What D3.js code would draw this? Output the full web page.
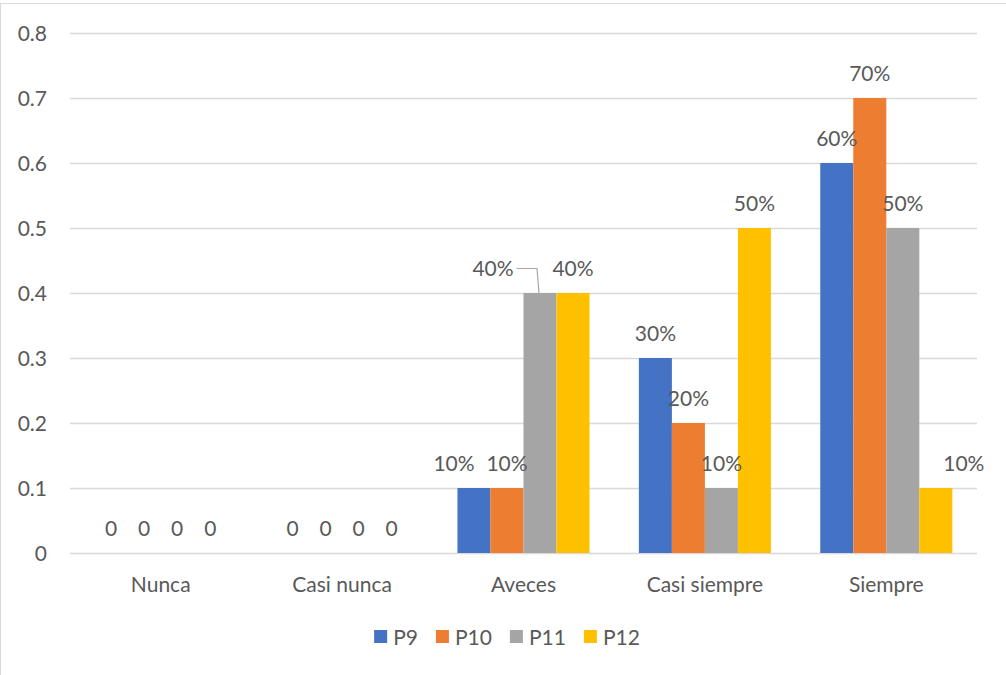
<!DOCTYPE html>
<html><head><meta charset="utf-8">
<script src="https://cdn.jsdelivr.net/npm/d3@7"></script>
<style>
html,body{margin:0;padding:0;background:#fff;}
svg text{font-family:Lato,"Open Sans",sans-serif;fill:#595959;}
</style></head>
<body><svg id="c" width="1006" height="675"></svg>
<script>
const categories = ["Nunca","Casi nunca","Aveces","Casi siempre","Siempre"];
const seriesNames = ["P9","P10","P11","P12"];
const P9  = [0,0,0.1,0.3,0.6];
const P10 = [0,0,0.1,0.2,0.7];
const P11 = [0,0,0.4,0.1,0.5];
const P12 = [0,0,0.4,0.5,0.1];
const yTicks = [0,0.1,0.2,0.3,0.4,0.5,0.6,0.7,0.8];
const colors = ["#4472C4","#ED7D31","#A5A5A5","#FFC000"];
// label nudges (style only): [seriesIndex, categoryIndex, dx, leader]
const labelNudges = [[0,2,-20,false],[2,2,-47,true],[3,4,28,false]];

const FS = "21px";
const values = [P9,P10,P11,P12];
const svg = d3.select("#c");
svg.append("rect").attr("x",0.5).attr("y",3.5).attr("width",1020).attr("height",690)
  .attr("fill","none").attr("stroke","#D9D9D9").attr("stroke-width",1);

const pLeft=70, pRight=977, pTop=33, pBottom=553;
const y = d3.scaleLinear().domain([0,0.8]).range([pBottom,pTop]);
const x0 = d3.scaleBand().domain(categories).range([pLeft,pRight]).paddingInner(0.272).paddingOuter(0.136);
const x1 = d3.scaleBand().domain(seriesNames).range([0,x0.bandwidth()]);

// gridlines
svg.append("g").selectAll("line").data(yTicks).join("line")
  .attr("x1",pLeft).attr("x2",pRight)
  .attr("y1",d=>Math.round(y(d))+0.5).attr("y2",d=>Math.round(y(d))+0.5)
  .attr("stroke","#D9D9D9").attr("stroke-width",1.3);
// y tick labels
svg.append("g").selectAll("text").data(yTicks).join("text")
  .attr("x",47).attr("y",d=>y(d)+7.5).attr("text-anchor","end")
  .style("font-size",FS).text(d=>d===0?"0":d3.format(".1f")(d));

// bars
const data=[];
seriesNames.forEach((s,si)=>categories.forEach((c,ci)=>data.push({s,si,c,ci,v:values[si][ci]})));
svg.append("g").selectAll("rect").data(data.filter(d=>d.v>0)).join("rect")
  .attr("x",d=>x0(d.c)+x1(d.s)).attr("width",x1.bandwidth())
  .attr("y",d=>y(d.v)).attr("height",d=>y(0)-y(d.v))
  .attr("fill",d=>colors[d.si]);

// labels
const fmt = v=> v===0?"0":Math.round(v*100)+"%";
const lg = svg.append("g");
data.forEach(d=>{
  const cx = x0(d.c)+x1(d.s)+x1.bandwidth()/2;
  const n = labelNudges.find(k=>k[0]===d.si&&k[1]===d.ci);
  const dx = n?n[2]:0;
  const ty = y(d.v)-17.5;
  const t = lg.append("text").attr("x",cx+dx).attr("y",ty).attr("text-anchor","middle")
    .style("font-size",FS).text(fmt(d.v));
  if(n&&n[3]){
    const w = t.node().getComputedTextLength();
    const lx = cx+dx+w/2+3, ly = ty-7;
    lg.append("path").attr("d",`M${lx},${ly}H${cx-3}L${cx-1},${y(d.v)}`)
      .attr("fill","none").attr("stroke","#A6A6A6").attr("stroke-width",1.2);
  }
});

// category labels
svg.append("g").selectAll("text").data(categories).join("text")
  .attr("x",d=>x0(d)+x0.bandwidth()/2).attr("y",592).attr("text-anchor","middle")
  .style("font-size",FS).text(d=>d);

// legend
const leg = svg.append("g");
const items=[];
seriesNames.forEach((s,i)=>{
  const g = leg.append("g");
  g.append("rect").attr("x",0).attr("y",-7).attr("width",13).attr("height",13).attr("fill",colors[i]);
  const t = g.append("text").attr("x",19).attr("y",7.5).style("font-size",FS).text(s);
  const w = 19+t.node().getComputedTextLength();
  items.push({g,w});
});
const gap = 18;
let total = items.reduce((a,b)=>a+b.w,0)+ (items.length-1)*gap;
let cur = 507-total/2;
items.forEach(it=>{it.g.attr("transform",`translate(${cur},637)`);cur+=it.w+gap;});
</script></body></html>
